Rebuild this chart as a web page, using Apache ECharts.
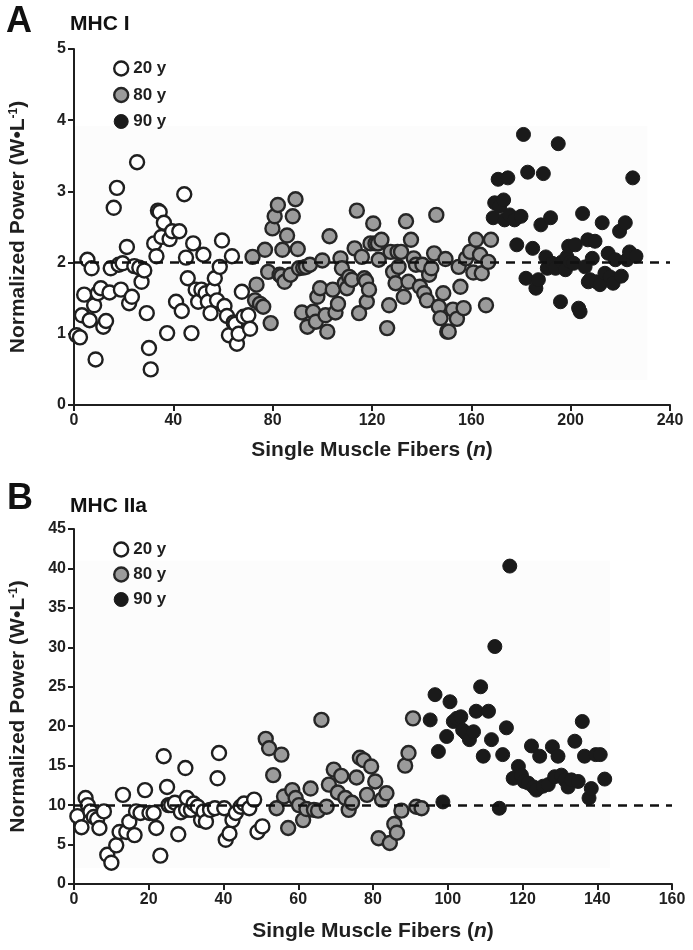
<!DOCTYPE html>
<html>
<head>
<meta charset="utf-8">
<script src="https://cdn.jsdelivr.net/npm/echarts@6/dist/echarts.min.js"></script>
<style>
html,body{margin:0;padding:0;background:#fff;}
#chart{width:693px;height:950px;}
</style>
</head>
<body>
<div id="chart"></div>
<script>
// ---------- DATA (fiber index, normalized power) ----------
const groupNames = ['20 y', '80 y', '90 y'];

// Panel A: MHC I
const mhcI_20y = [[1,0.98],[2.4,0.95],[3.2,1.26],[4.1,1.55],[5.4,2.04],[6.3,1.19],[7.1,1.92],[8.1,1.40],[8.7,0.64],[9.6,1.57],
  [10.8,1.64],[11.8,1.10],[12.9,1.18],[14.3,1.58],[14.8,1.92],[16,2.77],[17.3,3.05],[18,1.97],[18.9,1.62],[19.6,1.99],
  [21.3,2.22],[22.2,1.43],[23.3,1.52],[24.3,1.95],[25.4,3.41],[26.3,1.93],[27.2,1.73],[28.3,1.89],[29.3,1.29],[30.2,0.80],
  [30.9,0.50],[32.3,2.27],[33.2,2.09],[33.8,2.73],[34.5,2.71],[35.2,2.36],[36.2,2.56],[37.5,1.01],[38.5,2.33],[39.5,2.44],
  [41.1,1.45],[42.4,2.44],[43.4,1.32],[44.4,2.96],[45.1,2.07],[45.8,1.78],[47.3,1.01],[48,2.27],[49,1.62],[50,1.45],
  [51.3,1.62],[52.1,2.11],[53,1.57],[53.9,1.45],[55,1.29],[56,1.62],[56.7,1.78],[57.6,1.47],[58.7,1.94],[59.6,2.31],
  [60.6,1.39],[61.6,1.25],[62.4,0.98],[63.6,2.09],[64.3,1.16],[65,1.14],[65.6,0.86],[66.3,1.0],[67.6,1.59],[68.3,1.24],
  [70.2,1.26],[70.9,1.07]];
const mhcI_80y = [[71.9,2.08],[72.9,1.47],[73.5,1.69],[74.9,1.42],[76.2,1.38],[76.9,2.18],[78.2,1.87],[79.2,1.15],[79.9,2.48],[80.8,2.65],
  [82.1,2.81],[82.8,1.83],[83.5,1.81],[83.9,2.18],[84.8,1.73],[85.8,2.38],[87.2,1.83],[88.1,2.65],[89.2,2.89],[90.1,2.19],
  [90.6,1.92],[91.8,1.30],[92.3,1.93],[93.4,1.94],[94.0,1.10],[95.0,1.97],[96.3,1.31],[97.4,1.17],[98,1.52],[99.1,1.64],
  [100,2.03],[101.3,1.26],[102,1.03],[102.9,2.37],[104.2,1.62],[105.3,1.30],[106.3,1.42],[107.3,2.06],[107.9,1.92],[109,1.71],
  [109.9,1.64],[110.8,1.80],[111.9,1.76],[113,2.20],[113.9,2.73],[114.8,1.29],[115.9,2.08],[116.9,1.78],[117.6,1.74],[117.9,1.45],
  [118.8,1.62],[119.4,2.27],[120.5,2.55],[121.4,2.27],[122.4,2.27],[122.7,2.04],[123.8,2.32],[126.1,1.08],[126.9,1.40],[127.5,2.15],
  [128.5,1.87],[129.5,1.71],[130.3,2.15],[130.7,1.94],[131.7,2.15],[132.8,1.52],[133.7,2.58],[134.7,1.73],[135.7,2.32],[136.8,2.06],
  [137.7,1.97],[139.3,1.66],[140.3,1.97],[141,1.57],[142.1,1.47],[143,1.83],[143.9,1.92],[145,2.13],[145.9,2.67],[146.9,1.38],
  [147.6,1.22],[148.7,1.57],[149.6,2.05],[150.3,1.03],[150.9,1.03],[152.6,1.34],[154.2,1.21],[154.9,1.94],[155.6,1.66],[156.9,1.36],
  [157.9,2.06],[159.5,2.15],[160.8,1.86],[161.9,2.32],[163.5,2.11],[164.2,1.85],[165.9,1.40],[166.8,2.01],[167.9,2.32]];
const mhcI_90y = [[168.8,2.63],[169.4,2.84],[170.8,3.17],[171.4,2.79],[173,2.88],[173.4,2.60],[174.7,3.19],[175.4,2.67],[177.4,2.60],[178.3,2.25],
  [180,2.65],[181,3.80],[182,1.78],[182.7,3.27],[184.7,2.20],[186,1.64],[187,1.76],[188,2.53],[189,3.25],[190,2.08],
  [190.6,1.92],[191.9,2.63],[192.6,1.99],[193.9,1.92],[195,3.67],[195.9,1.45],[196.5,2.01],[197.9,1.90],[198.5,2.08],[199.2,2.23],
  [199.9,2.01],[201.2,1.99],[201.9,2.25],[203.2,1.36],[203.8,1.31],[204.8,2.69],[205.8,1.94],[206.9,2.32],[207.1,1.73],[207.8,1.76],
  [208.7,2.06],[209.8,2.30],[210.4,1.73],[211.8,1.69],[212.7,2.56],[213.8,1.85],[215.1,2.13],[215.8,1.80],[217.1,1.71],[218,2.04],
  [219.7,2.44],[220.4,1.81],[222,2.56],[222.7,2.04],[223.7,2.15],[225,3.19],[226.3,2.09]];

// Panel B: MHC IIa
const mhcIIa_20y = [[0.9,8.6],[2,7.2],[3.1,10.9],[3.7,10.0],[4.4,9.2],[5.3,8.5],[6.2,8.2],[6.8,7.1],[8,9.2],[8.9,3.7],
  [10,2.7],[11.3,4.9],[12.2,6.6],[13.1,11.3],[14,6.6],[14.8,7.9],[16.2,6.2],[16.6,9.2],[17.8,9.0],[19,11.9],
  [20.2,9.0],[21.3,9.0],[22,7.1],[23.1,3.6],[24,16.2],[24.9,12.3],[25.3,10.0],[26,10.0],[27,10.3],[27.9,6.3],
  [28.6,9.1],[29.8,14.7],[30,9.4],[30.2,10.9],[31.3,9.4],[32,10.2],[33.1,9.8],[34,8.1],[34.7,9.2],[35.3,7.9],
  [36.4,9.4],[37.7,9.6],[38.4,13.4],[38.8,16.6],[40.2,9.6],[40.6,5.6],[41.6,6.4],[42.4,8.1],[43.3,9.0],[44.6,9.8],
  [45.5,10.2],[46.9,9.6],[48.2,10.7],[49.1,6.6],[50.4,7.3]];
const mhcIIa_80y = [[51.3,18.4],[52.2,17.2],[53.3,13.8],[54.2,9.6],[55.5,16.4],[56.2,11.1],[57.3,7.1],[58.4,11.9],[59.3,10.9],[60.2,10.0],
  [61.3,8.1],[62.2,9.5],[63.3,12.1],[64.2,9.4],[65.3,9.3],[66.2,20.8],[67.6,9.8],[68.2,12.6],[69.5,14.5],[70.6,11.6],
  [71.5,13.7],[72.6,10.9],[73.5,9.4],[74.4,10.3],[75.6,13.5],[76.5,16.0],[77.5,15.7],[78.4,11.3],[79.5,14.9],[80.6,13.0],
  [81.5,5.8],[82.4,10.7],[83.6,11.5],[84.5,5.2],[85.7,7.6],[86.4,6.5],[87.6,9.3],[88.6,15.0],[89.5,16.6],[90.7,21.0],
  [91.6,9.8],[93,9.6]];
const mhcIIa_90y = [[95.3,20.8],[96.6,24.0],[97.5,16.8],[98.7,10.4],[99.7,18.7],[100.6,23.1],[101.5,20.6],[102.4,21.0],[103.5,21.2],[104,19.5],
  [104.9,19.1],[105.8,18.3],[106.9,19.3],[107.6,21.9],[108.8,25.0],[109.5,16.2],[110.9,21.9],[111.7,18.3],[112.6,30.1],[113.8,9.6],
  [114.7,16.4],[115.7,19.8],[116.6,40.3],[117.5,13.4],[118.9,14.9],[119.7,13.8],[120.4,13.0],[121.5,12.8],[122.4,17.5],[123,12.3],
  [123.7,11.9],[124.6,16.2],[125.5,12.4],[126.9,12.6],[128,17.4],[128.6,13.6],[129.5,16.2],[130.4,13.8],[131.3,13.2],[132.2,12.3],
  [133.1,13.2],[134,18.1],[134.9,13.0],[136,20.6],[136.6,16.2],[137.8,10.9],[138.4,12.1],[139.6,16.4],[140.8,16.4],[142,13.3]];

// reference (young mean) levels
const refLevelA = 2;
const refLevelB = 10;
// ---------------------------------------------------------

const FONT = '"Liberation Sans", Arial, Helvetica, sans-serif';
const INK = '#1f1f1f';
const groupStyles = [
  {color:'#ffffff', borderColor:INK, borderWidth:2.4, opacity:1},
  {color:'#9b9b9b', borderColor:'#262626', borderWidth:2.4, opacity:1},
  {color:'#1a1a1a', borderColor:'#1a1a1a', borderWidth:1, opacity:1}
];

function axisBase(){
  return {
    type:'value',
    axisLine:{show:true,onZero:false,lineStyle:{color:INK,width:2}},
    axisTick:{show:true,inside:false,length:6,lineStyle:{color:INK,width:2}},
    splitLine:{show:false},
    axisLabel:{fontSize:16,fontWeight:'bold',color:INK,fontFamily:FONT,margin:8}
  };
}
const xName = 'Single Muscle Fibers ({i|n})';
const xNameStyle = {fontSize:21,fontWeight:'bold',color:INK,fontFamily:FONT,
  rich:{i:{fontSize:21,fontWeight:'bold',fontStyle:'italic',color:INK,fontFamily:FONT}}};
const yName = 'Normalized Power (W•L{s|-1})';
const yNameStyle = {fontSize:21,fontWeight:'bold',color:INK,fontFamily:FONT,
  rich:{s:{fontSize:12,fontWeight:'bold',color:INK,fontFamily:FONT,verticalAlign:'top',padding:[0,0,9,0]}}};

function scatter(name, data, idx, styleIdx){
  return {name:name,type:'scatter',xAxisIndex:idx,yAxisIndex:idx,data:data,
    symbol:'circle',symbolSize:14,itemStyle:groupStyles[styleIdx],z:3,silent:true};
}
function refSeries(idx, level, x1, y0, y1){
  return {type:'line',xAxisIndex:idx,yAxisIndex:idx,data:[],z:1,silent:true,
    markLine:{symbol:'none',silent:true,label:{show:false},
      lineStyle:{color:'#111',width:2.5,type:[9,7],opacity:1},data:[{yAxis:level}]},
    markArea:{silent:true,itemStyle:{color:'rgba(0,0,0,0.012)'},
      data:[[{xAxis:0,yAxis:y0},{xAxis:x1,yAxis:y1}]]}};
}
function legendFor(top, gap){
  return {orient:'vertical',left:108,top:top,itemWidth:14,itemHeight:14,itemGap:gap,icon:'circle',
    selectedMode:false,textStyle:{fontSize:17,fontWeight:'bold',color:INK,fontFamily:FONT},
    data:groupNames.map((n,i)=>({name:n,itemStyle:groupStyles[i]}))};
}

const option = {
  animation:false,
  backgroundColor:'#ffffff',
  textStyle:{fontFamily:FONT},
  grid:[
    {left:69,top:49,width:601,height:356},
    {left:70,top:529,width:602,height:355}
  ],
  xAxis:[
    Object.assign(axisBase(),{gridIndex:0,min:0,max:240,interval:40,name:xName,nameLocation:'middle',nameGap:35,nameTextStyle:xNameStyle}),
    Object.assign(axisBase(),{gridIndex:1,min:0,max:160,interval:20,name:xName,nameLocation:'middle',nameGap:37,nameTextStyle:xNameStyle})
  ],
  yAxis:[
    Object.assign(axisBase(),{gridIndex:0,min:0,max:5,interval:1,name:yName,nameLocation:'middle',nameGap:45,nameTextStyle:yNameStyle}),
    Object.assign(axisBase(),{gridIndex:1,min:0,max:45,interval:5,name:yName,nameLocation:'middle',nameGap:45,nameTextStyle:yNameStyle})
  ],
  legend:[legendFor(55,9.5), legendFor(536,8)],
  graphic:[
    {type:'text',left:6,top:4,style:{text:'A',font:'bold 36px '+FONT,fill:'#111'}},
    {type:'text',left:70,top:14,style:{text:'MHC I',font:'bold 21px '+FONT,fill:'#111'}},
    {type:'text',left:7,top:481,style:{text:'B',font:'bold 36px '+FONT,fill:'#111'}},
    {type:'text',left:70,top:496,style:{text:'MHC IIa',font:'bold 21px '+FONT,fill:'#111'}}
  ],
  series:[
    refSeries(0, refLevelA, 231, 0.35, 3.92),
    scatter(groupNames[0], mhcI_20y, 0, 0),
    scatter(groupNames[1], mhcI_80y, 0, 1),
    scatter(groupNames[2], mhcI_90y, 0, 2),
    refSeries(1, refLevelB, 143.5, 2, 41),
    scatter(groupNames[0], mhcIIa_20y, 1, 0),
    scatter(groupNames[1], mhcIIa_80y, 1, 1),
    scatter(groupNames[2], mhcIIa_90y, 1, 2)
  ]
};
const chart = echarts.init(document.getElementById('chart'), null, {renderer:'canvas'});
chart.setOption(option);
</script>
</body>
</html>
